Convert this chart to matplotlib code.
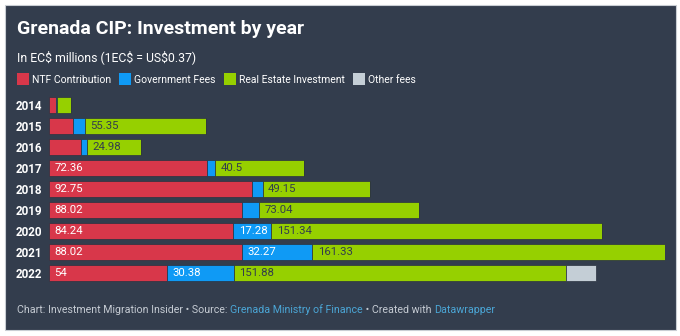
import matplotlib.pyplot as plt
from matplotlib.patches import Rectangle

years = ["2014", "2015", "2016", "2017", "2018", "2019", "2020", "2021", "2022"]
ntf = [3.1, 10.8, 14.7, 72.36, 92.75, 88.02, 84.24, 88.02, 54]
gov_fees = [0.5, 5.6, 2.6, 3.7, 4.9, 7.9, 17.28, 32.27, 30.38]
real_estate = [6.4, 55.35, 24.98, 40.5, 49.15, 73.04, 151.34, 161.33, 151.88]
other_fees = [0, 0, 0, 0, 0, 0, 0, 0, 13.7]

series_names = ["NTF Contribution", "Government Fees", "Real Estate Investment", "Other fees"]
colors = ["#d8374a", "#0f9af5", "#96d000", "#c4ced6"]
label_colors = ["white", "white", "#333d4d", "#333d4d"]

BG = "#333d4d"
W, H = 680, 336

plt.rcParams['font.family'] = ['Roboto', 'DejaVu Sans']

fig = plt.figure(figsize=(W / 100, H / 100), dpi=100)
fig.patch.set_facecolor("white")


def fx(x):
    return x / W


def fy(y):
    return 1 - y / H


# dark card behind everything
fig.patches.append(Rectangle((fx(5), fy(330)), fx(671), 325 / H, transform=fig.transFigure,
                             facecolor=BG, edgecolor="#c9ced4", linewidth=0.8, zorder=-10))

fig.text(fx(17), fy(34), "Grenada CIP: Investment by year", color="white",
         fontsize=14, fontweight="bold", va="baseline")
fig.text(fx(17), fy(61), "In EC$ millions (1EC$ = US$0.37)", color="white",
         fontsize=8.8, va="baseline", parse_math=False)

renderer = fig.canvas.get_renderer()

# legend row
x = 17
for name, c in zip(series_names, colors):
    fig.patches.append(Rectangle((fx(x), fy(85)), 12 / W, 12 / H, transform=fig.transFigure,
                                 facecolor=c, edgecolor="none"))
    t = fig.text(fx(x + 15), fy(83), name, color="white", fontsize=7.5, va="baseline")
    bb = t.get_window_extent(renderer)
    x = x + 15 + bb.width + 8

# bars
totals = [a + b + c + d for a, b, c, d in zip(ntf, gov_fees, real_estate, other_fees)]
ax = fig.add_axes([fx(49), fy(283.5), fx(665) - fx(49), 189 / H])
ax.set_facecolor("none")
ax.set_xlim(0, max(totals))
ax.set_ylim(len(years) - 0.5, -0.5)

rows = list(range(len(years)))
left = [0] * len(years)
for vals, c, lc in zip([ntf, gov_fees, real_estate, other_fees], colors, label_colors):
    ax.barh(rows, vals, left=left, height=0.8, color=c, edgecolor="#2a3240", linewidth=0.5)
    for i, v in enumerate(vals):
        if v >= 16:
            ax.annotate(f"{v:g}", (left[i], i), xytext=(4, 0), textcoords="offset points",
                        va="center", ha="left", color=lc, fontsize=8.2)
    left = [l + v for l, v in zip(left, vals)]

ax.set_yticks(rows)
ax.set_yticklabels(years, color="white", fontsize=8.4, fontweight="bold")
ax.tick_params(axis="y", length=0, pad=5)
ax.set_xticks([])
for s in ax.spines.values():
    s.set_visible(False)

# footer with linked parts in blue
parts = [("Chart: Investment Migration Insider • Source: ", "#c5cbd3"),
         ("Grenada Ministry of Finance", "#4ba6d6"),
         (" • Created with ", "#c5cbd3"),
         ("Datawrapper", "#4ba6d6")]
x = 17
for txt, c in parts:
    t = fig.text(fx(x), fy(313), txt, color=c, fontsize=7.7, va="baseline")
    x += t.get_window_extent(renderer).width

fig.savefig("out.png", dpi=100, facecolor="white")
